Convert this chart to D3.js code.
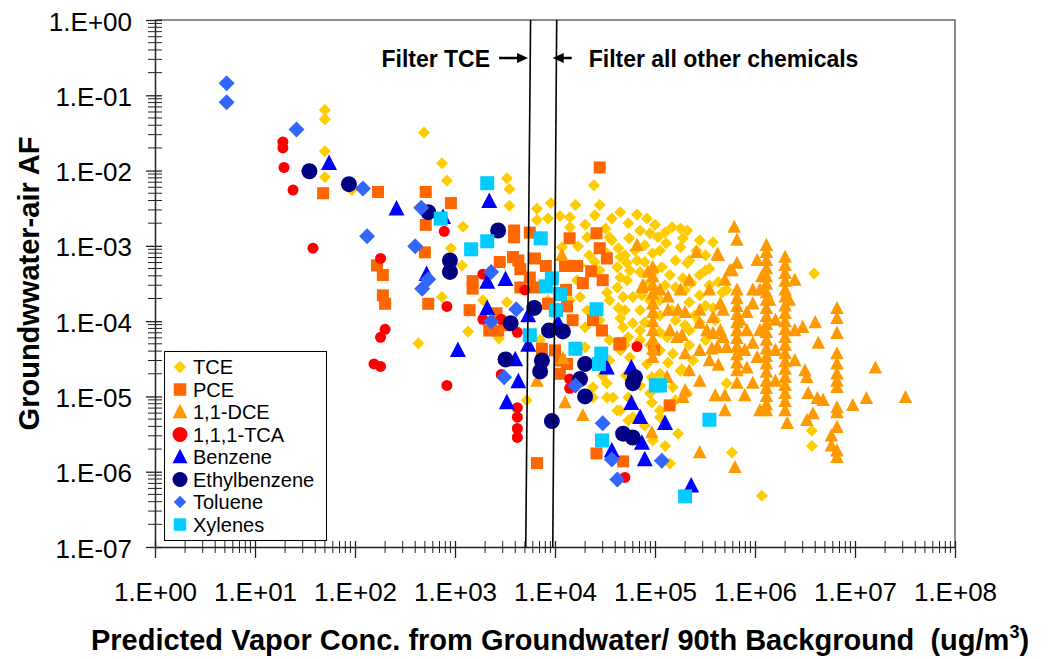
<!DOCTYPE html>
<html>
<head>
<meta charset="utf-8">
<script src="https://cdn.jsdelivr.net/npm/d3@7"></script>
<style>
    body { margin: 0; background: #fff; }
    svg { font-family: "Liberation Sans", Arial, sans-serif; }
</style>
</head>
<body>
<svg id="chart" width="1055" height="659"></svg>
<script>
// Axis ticks
const xTicks = [1e0, 1e1, 1e2, 1e3, 1e4, 1e5, 1e6, 1e7, 1e8]
const xTickLabels = ["1.E+00", "1.E+01", "1.E+02", "1.E+03", "1.E+04", "1.E+05", "1.E+06", "1.E+07", "1.E+08"]
const yTicks = [1e-7, 1e-6, 1e-5, 1e-4, 1e-3, 1e-2, 1e-1, 1e0]
const yTickLabels = ["1.E-07", "1.E-06", "1.E-05", "1.E-04", "1.E-03", "1.E-02", "1.E-01", "1.E+00"]

// [predicted vapor conc / background, groundwater-air AF]
const tce = [
    [5.0e1, 6.4e-2], [5.0e1, 4.8e-2], [5.0e1, 1.8e-2], [5.0e1, 8.2e-3], [9.3e1, 5.5e-3],
    [4.9e2, 3.2e-2], [4.3e2, 5.1e-5], [7.4e2, 1.25e-2], [8.3e2, 7.4e-3], [3.3e3, 7.9e-3],
    [3.5e3, 5.7e-3], [3.5e3, 3.4e-3], [1.2e3, 1.8e-3], [6.6e3, 3.1e-3], [9.1e3, 3.7e-3],
    [6.6e3, 2.2e-3], [8.5e3, 2.3e-3], [1.12e4, 2.5e-3], [1.41e4, 2.4e-3], [1.41e4, 1.77e-3],
    [2.45e4, 6.4e-3], [3.7e4, 2.3e-3], [5.4e4, 2.0e-3], [6.6e4, 2.6e-3], [8.3e4, 2.3e-3],
    [8.9e4, 1.47e-3], [1.07e5, 1.3e-3], [1.29e5, 1.08e-3], [2.1e5, 1.6e-3], [1.9e5, 1.26e-3],
    [3.8e5, 1.12e-3], [2.1e4, 1.3e-3], [3.5e4, 1.3e-3], [1.17e4, 9.6e-4], [3.3e4, 8.0e-4],
    [4.3e4, 9.3e-4], [4.5e4, 7.1e-4], [5.25e4, 5.9e-4], [4.2e4, 5.2e-4], [4.5e4, 3.8e-4],
    [4.2e4, 2.8e-4], [4.8e4, 2.1e-4], [4.3e4, 1.5e-4], [4.5e4, 1.09e-4], [4.8e4, 8.3e-5],
    [3.5e4, 5.6e-5], [4.5e4, 4.1e-5], [3.5e4, 3.0e-5], [3.3e4, 9.7e-6], [4.2e4, 6.5e-6],
    [2.4e4, 1.32e-5], [2.4e4, 9.7e-6], [2.0e4, 8.3e-5], [2.0e4, 4.5e-5], [1.78e4, 2.1e-4],
    [2.1e4, 1.4e-4], [9.1e2, 9.3e-4], [1.17e3, 5.5e-4], [7.4e2, 2.1e-4], [1.35e3, 7.3e-5],
    [1.9e3, 1.9e-4], [3.3e3, 1.78e-4], [2.75e3, 5.9e-5], [5.2e3, 8.9e-6], [5.5e4, 1.26e-3],
    [5.0e4, 7.5e-4], [6.6e4, 6.4e-4], [9.5e4, 8.0e-4], [1.17e5, 5.2e-4], [1.6e5, 6.4e-4],
    [2.1e5, 5.9e-4], [2.3e5, 3.2e-4], [1.9e5, 3.7e-4], [1.6e5, 2.8e-4], [4.3e5, 3.3e-4],
    [5.2e5, 2.6e-4], [3.8e5, 1.5e-4], [5.25e4, 3.5e-4], [6.0e4, 2.1e-4], [7.1e4, 1.4e-4],
    [6.0e4, 9.4e-5], [5.4e4, 6.1e-5], [5.6e4, 3.3e-5], [8.3e4, 2.7e-5], [1.35e5, 2.8e-5],
    [1.86e5, 2.3e-5], [9.3e4, 1.8e-5], [1.51e5, 1.32e-5], [2.1e5, 1.1e-5], [5.4e4, 9.7e-6],
    [9.3e4, 8.3e-6], [1.12e5, 5.3e-6], [1.7e5, 3.2e-6], [5.4e4, 4.8e-6], [1.41e5, 1.29e-6],
    [5.2e5, 1.5e-5], [5.9e5, 1.8e-6], [1.17e6, 4.8e-7], [3.9e6, 4.3e-4], [3.7e6, 3.5e-6],
    [3.7e6, 2.2e-6], [4.7e5, 2.4e-4], [9.5e4, 2.6e-6], [5.1e4, 1.9e-5], [8.9e4, 1.1e-5],
    [4.5e4, 6.5e-6], [6.0e4, 5.3e-6], [1.12e5, 6.5e-6], [1.51e5, 3.7e-5], [2.4e5, 3.0e-5],
    [1.32e5, 6.1e-5], [1.8e5, 2.2e-5], [3.3e4, 1.5e-5], [3.8e4, 9.7e-6], [2.8e4, 4.7e-4],
    [3.3e4, 2.4e-4], [7.1e4, 4.5e-4], [8.9e4, 3.3e-4], [1.12e5, 1.9e-4], [7.9e4, 9.6e-5],
    [1.12e5, 7.1e-5], [2.2e5, 1.78e-4], [2.8e5, 9.6e-5], [2.8e5, 4.1e-4], [3.2e5, 7.5e-4],
    [1.8e5, 9.6e-4], [1.48e5, 1.77e-3], [2.6e5, 8.7e-4], [3.5e5, 5.0e-4], [8.9e4, 4.8e-5],
    [2.5e4, 2.55e-3], [1.7e4, 9.9e-4], [1.66e4, 3.5e-4], [7.4e4, 2.2e-4], [1.0e5, 1.19e-4],
    [1.48e5, 1.4e-4], [2.0e5, 8.8e-5], [1.26e5, 3.0e-4], [7.1e4, 5.6e-5], [2.2e5, 4.8e-5],
    [3.2e5, 5.6e-5], [7.1e4, 1.4e-5], [1.12e5, 2.0e-5], [1.6e5, 8.9e-6], [7.9e4, 4.1e-6],
    [1.26e5, 2.2e-6], [2.7e4, 3.0e-5], [3.0e4, 1.9e-5], [8.5e3, 1.9e-4], [1.02e4, 8.8e-5],
    [7.1e3, 5.6e-5], [1.6e4, 3.5e-3], [2.0e4, 1.9e-3], [2.8e4, 3.5e-3], [3.2e4, 1.7e-3],
    [4.5e4, 2.8e-3], [7.1e4, 1.6e-3], [1.0e5, 1.9e-3], [1.26e5, 1.5e-3], [7.9e4, 1.02e-3],
    [2.2e4, 7.5e-4], [2.5e4, 6.1e-4], [6.3e4, 8.7e-4], [1.12e5, 8.7e-4], [2.2e5, 6.4e-4],
    [3.2e5, 4.7e-4], [3.7e4, 1.19e-3], [5.6e4, 4.7e-4], [7.9e4, 6.1e-4], [1.0e5, 4.7e-4],
    [1.41e5, 4.1e-4], [2.0e5, 2.6e-4], [2.8e5, 2.2e-4], [3.5e5, 3.0e-4], [8.9e4, 1.9e-4],
    [5.0e4, 1.4e-4], [3.5e4, 1.9e-4], [2.8e4, 1.03e-4], [1.6e5, 1.03e-4], [2.5e5, 1.19e-4],
    [4.0e5, 1.03e-4], [1.12e5, 1.19e-4], [7.1e4, 7.5e-5], [2.2e5, 7.5e-5], [5.0e4, 4.8e-5],
    [1.12e5, 4.1e-5], [3.2e5, 1.6e-4], [1.78e4, 5.5e-4], [1.41e4, 1.9e-4], [1.8e5, 1.7e-3],
    [2.8e5, 1.19e-3]
]
const pce = [
    [4.8e1, 5.0e-3], [1.7e2, 5.2e-3], [5.1e2, 5.2e-3], [5.1e2, 1.9e-3], [5.0e2, 8.2e-4],
    [1.66e2, 5.5e-4], [1.9e2, 4.1e-4], [1.9e2, 2.2e-4], [2.0e2, 1.7e-4], [5.4e2, 1.7e-4],
    [9.1e2, 3.7e-3], [2.8e4, 1.1e-2], [1.5e3, 3.4e-4], [1.5e3, 2.7e-4], [2.8e3, 6.1e-4],
    [3.9e3, 1.6e-3], [3.9e3, 1.3e-3], [5.6e3, 1.5e-3], [3.8e3, 7.1e-4], [4.3e3, 6.4e-4],
    [4.5e3, 4.9e-4], [6.3e3, 6.8e-4], [8.1e3, 5.4e-4], [1.26e4, 5.4e-4], [1.66e4, 5.4e-4],
    [1.4e4, 1.26e-3], [2.6e4, 1.47e-3], [2.8e4, 9.3e-4], [3.3e4, 6.8e-4], [2.3e4, 4.6e-4],
    [3.0e4, 3.5e-4], [1.9e4, 3.2e-4], [1.29e4, 2.6e-4], [1.32e4, 1.57e-4], [1.5e4, 1.03e-4],
    [2.4e4, 1.03e-4], [2.95e4, 7.5e-5], [4.4e4, 4.9e-5], [7.4e3, 4.3e-5], [1.0e4, 4.1e-5],
    [1.12e4, 3.0e-5], [1.32e4, 2.7e-5], [1.12e4, 2.0e-5], [2.6e4, 1.75e-6], [6.6e3, 1.3e-6],
    [4.8e4, 1.37e-6], [2.2e3, 7.5e-5], [2.7e3, 7.5e-5], [4.5e3, 2.8e-4], [5.6e3, 3.8e-4],
    [6.3e3, 2.8e-4], [8.5e3, 1.7e-4], [2.6e3, 1.27e-4], [3.16e3, 8.8e-5], [1.4e3, 1.4e-4],
    [1.4e5, 7.6e-6], [9.8e4, 4.2e-5], [4.5e4, 5.1e-5]
]
const dce = [
    [1.3e6, 1.02e-3], [1.3e6, 8.2e-4], [1.3e6, 6.4e-4], [1.3e6, 5.0e-4], [1.3e6, 3.9e-4],
    [1.3e6, 3.1e-4], [1.3e6, 2.4e-4], [1.3e6, 1.9e-4], [1.3e6, 1.48e-4], [1.3e6, 1.16e-4],
    [1.3e6, 9.1e-5], [1.3e6, 7.1e-5], [1.3e6, 5.6e-5], [1.3e6, 4.3e-5], [1.3e6, 3.4e-5],
    [1.3e6, 2.7e-5], [1.3e6, 2.1e-5], [1.3e6, 1.6e-5], [1.3e6, 1.28e-5], [1.3e6, 1.0e-5],
    [1.3e6, 7.8e-6], [1.3e6, 6.5e-6],
    [2.0e6, 7.1e-4], [2.0e6, 5.5e-4], [2.0e6, 4.3e-4], [2.0e6, 3.4e-4], [2.0e6, 2.6e-4],
    [2.0e6, 2.1e-4], [2.0e6, 1.6e-4], [2.0e6, 1.27e-4], [2.0e6, 9.9e-5], [2.0e6, 7.8e-5],
    [2.0e6, 6.1e-5], [2.0e6, 4.8e-5], [2.0e6, 3.7e-5], [2.0e6, 2.9e-5], [2.0e6, 2.3e-5],
    [2.0e6, 1.8e-5], [2.0e6, 1.4e-5], [2.0e6, 1.1e-5], [2.0e6, 8.6e-6], [2.0e6, 6.5e-6],
    [6.6e6, 1.48e-4], [6.6e6, 1.09e-4], [6.6e6, 6.9e-5], [6.6e6, 3.7e-5], [6.6e6, 2.7e-5],
    [6.6e6, 2.0e-5], [6.6e6, 1.6e-5], [6.6e6, 1.32e-5], [6.6e6, 7.1e-6], [6.6e6, 6.1e-6],
    [6.6e6, 3.9e-6], [5.8e6, 3.0e-6], [5.8e6, 2.2e-6], [6.6e6, 1.9e-6], [6.6e6, 1.55e-6],
    [6.6e5, 2.6e-4], [6.6e5, 2.0e-4], [6.6e5, 1.57e-4], [6.6e5, 1.23e-4], [6.6e5, 9.6e-5],
    [6.6e5, 7.5e-5], [6.6e5, 5.9e-5], [6.6e5, 4.6e-5], [6.6e5, 3.6e-5], [6.6e5, 2.8e-5],
    [6.6e5, 2.2e-5], [6.6e5, 1.5e-5],
    [9.5e4, 5.2e-4], [9.5e4, 3.9e-4], [9.5e4, 3.0e-4], [9.5e4, 2.3e-4], [9.5e4, 1.7e-4],
    [9.5e4, 1.31e-4], [9.5e4, 9.9e-5], [9.5e4, 7.5e-5], [9.5e4, 5.7e-5], [9.5e4, 4.3e-5],
    [9.5e4, 3.3e-5],
    [6.2e5, 1.77e-3], [6.6e5, 1.19e-3], [2.6e5, 8.2e-4], [4.2e5, 7.7e-4], [6.6e4, 1.02e-3],
    [8.5e4, 4.5e-4], [6.6e5, 5.9e-4], [5.6e5, 4.7e-4], [1.35e5, 2.1e-4], [1.35e5, 1.4e-4],
    [1.7e5, 1.4e-4], [2.0e5, 1.31e-4], [7.6e4, 3.0e-4], [2.8e5, 1.4e-4], [3.8e5, 1.12e-4],
    [4.5e5, 1.7e-4], [4.8e5, 1.4e-4], [9.5e5, 2.6e-4], [9.5e5, 1.7e-4], [8.3e5, 1.31e-4],
    [8.3e5, 7.5e-5], [9.5e5, 5.1e-5], [1.05e6, 3.3e-5], [8.3e5, 2.4e-5], [9.5e5, 1.5e-5],
    [2.8e5, 9.4e-5], [3.3e5, 7.5e-5], [2.8e5, 4.1e-5], [4.2e5, 4.5e-5], [4.5e5, 7.5e-5],
    [4.8e5, 6.1e-5], [5.2e5, 4.5e-5], [4.3e5, 2.6e-5], [1.66e5, 6.1e-5], [2.0e5, 3.7e-5],
    [1.86e5, 6.5e-5], [2.0e5, 1.2e-5], [1.9e5, 9.7e-6], [3.0e6, 8.3e-5], [4.0e6, 9.6e-5],
    [4.3e6, 5.1e-5], [3.16e6, 2.2e-5], [3.3e6, 1.8e-5], [3.4e6, 1.1e-5], [3.8e6, 5.9e-6],
    [3.3e6, 4.8e-6], [2.1e6, 4.4e-6], [2.8e5, 1.8e-6], [6.3e5, 1.14e-6], [1.32e5, 1.8e-5],
    [9.3e4, 3.3e-6], [4.3e5, 7.5e-4], [5.9e5, 4.7e-4], [3.7e5, 4.3e-5], [4.2e6, 9.4e-6],
    [4.8e6, 8.9e-6], [9.5e6, 7.6e-6], [1.3e7, 9.4e-6], [1.6e7, 2.4e-5], [3.2e7, 9.7e-6],
    [1.26e4, 8.3e-6], [1.9e4, 5.6e-6], [6.6e3, 1.6e-5], [1.2e4, 3.2e-5], [1.17e4, 7.5e-4],
    [3.8e5, 6.9e-5], [7.4e4, 2.8e-4], [1.12e5, 2.6e-4], [1.17e6, 3.9e-4], [1.4e6, 1.9e-4],
    [1.12e6, 7.5e-5], [1.6e6, 4.1e-5], [2.2e6, 1.9e-4], [2.5e6, 7.5e-5], [2.2e5, 2.2e-5],
    [2.8e5, 1.6e-5], [3.5e5, 3.0e-5], [5.0e5, 1.03e-5], [7.9e5, 4.1e-5], [7.9e5, 1.03e-5],
    [1.12e6, 2.6e-4], [1.6e6, 1.03e-4], [1.6e6, 1.6e-5], [1.05e6, 6.4e-4], [1.8e5, 2.6e-4],
    [1.41e5, 7.5e-5], [2.2e5, 3.5e-4], [3.5e5, 2.6e-4], [5.0e5, 3.5e-4], [4.0e5, 1.03e-5],
    [7.1e5, 1.03e-4], [5.0e5, 6.5e-6], [1.12e6, 6.5e-6], [2.5e6, 3.0e-5], [2.5e6, 3.5e-4]
]
const tca = [
    [1.9e1, 2.4e-2], [1.9e1, 2.0e-2], [1.95e1, 1.1e-2], [2.4e1, 5.5e-3], [3.8e1, 9.3e-4],
    [1.8e2, 6.8e-4], [2.0e2, 7.8e-5], [1.8e2, 6.1e-5], [1.55e2, 2.7e-5], [1.8e2, 2.5e-5],
    [7.8e2, 1.56e-3], [8.3e2, 1.57e-4], [8.3e2, 1.4e-5], [1.9e3, 4.2e-4], [1.9e3, 1.06e-4],
    [2.9e3, 1.06e-4], [4.2e3, 7.1e-5], [5.0e3, 2.6e-4], [4.2e3, 7.1e-6], [4.2e3, 5.3e-6],
    [4.2e3, 3.75e-6], [4.2e3, 2.85e-6], [2.9e3, 1.96e-5], [1.4e4, 1.7e-5], [1.4e4, 1.28e-5],
    [6.6e4, 4.6e-5], [5.0e4, 8.4e-7]
]
const benzene = [
    [5.5e1, 1.25e-2], [2.6e2, 3.1e-3], [2.2e3, 3.9e-3], [7.6e2, 2.4e-3], [5.2e2, 4.2e-4],
    [2.1e3, 3.3e-4], [3.2e3, 3.6e-4], [2.1e3, 1.48e-4], [5.4e3, 1.19e-4], [1.07e3, 4.1e-5],
    [4.0e3, 3.1e-5], [5.4e3, 4.8e-5], [4.3e3, 1.58e-5], [3.3e3, 8.3e-6], [1.07e4, 9.6e-5],
    [3.3e4, 2.4e-5], [5.8e4, 2.4e-5], [5.8e4, 8.1e-6], [7.1e4, 5.3e-6], [1.26e5, 4.4e-6],
    [3.7e4, 1.9e-6], [7.4e4, 2.4e-6], [7.9e4, 1.45e-6], [2.3e5, 6.5e-7]
]
const ethylbenzene = [
    [3.5e1, 9.8e-3], [8.7e1, 6.6e-3], [5.4e2, 2.8e-3], [2.7e3, 1.6e-3], [8.9e2, 6.4e-4],
    [8.9e2, 4.5e-4], [6.2e3, 1.5e-4], [3.6e3, 9.4e-5], [8.7e3, 7.5e-5], [1.2e4, 7.3e-5],
    [3.2e3, 3.1e-5], [7.4e3, 3.0e-5], [7.1e3, 2.15e-5], [2.0e4, 2.7e-5], [1.78e4, 1.7e-5],
    [2.0e4, 1.0e-5], [9.3e3, 4.7e-6], [4.8e4, 3.2e-6], [6.0e4, 2.85e-6], [6.3e4, 1.8e-5],
    [6.0e4, 1.5e-5]
]
const toluene = [
    [5.2e0, 1.45e-1], [5.2e0, 8.1e-2], [2.6e1, 3.5e-2], [1.2e2, 5.8e-3], [4.6e2, 3.2e-3],
    [1.32e2, 1.34e-3], [4.0e2, 9.9e-4], [5.4e2, 3.6e-4], [4.7e2, 2.7e-4], [2.3e3, 4.5e-4],
    [4.1e3, 1.44e-4], [2.3e3, 9.9e-5], [3.1e3, 1.8e-5], [1.6e4, 1.4e-5], [3.0e4, 4.4e-6],
    [3.7e4, 1.45e-6], [4.2e4, 7.9e-7], [1.17e5, 1.4e-6]
]
const xylenes = [
    [2.1e3, 6.8e-3], [7.2e2, 2.3e-3], [2.1e3, 1.15e-3], [1.45e3, 9.0e-4], [7.2e3, 1.26e-3],
    [9.3e3, 3.7e-4], [8.1e3, 2.9e-4], [1.12e4, 2.3e-4], [1.02e4, 1.4e-4], [2.6e4, 1.44e-4],
    [5.6e3, 6.5e-5], [1.6e4, 4.3e-5], [2.9e4, 3.7e-5], [2.75e4, 2.7e-5], [1.02e5, 1.4e-5],
    [1.12e5, 1.4e-5], [2.95e4, 2.6e-6], [2.0e5, 4.7e-7], [3.5e5, 4.9e-6]
]

// Filter limits, drawn from the top to the bottom of the plot
const filterTce = [[5.7e3, 1e0], [5.1e3, 1e-7]]
const filterOther = [[1.04e4, 1e0], [9.5e3, 1e-7]]

const series = [
    {name: "TCE", data: tce, shape: "diamond", color: "#FFCC00", size: 12},
    {name: "PCE", data: pce, shape: "square", color: "#FF6600", size: 12},
    {name: "1,1-DCE", data: dce, shape: "triangle", color: "#FF9900", size: 13.5},
    {name: "1,1,1-TCA", data: tca, shape: "circle", color: "#FF0000", size: 11},
    {name: "Benzene", data: benzene, shape: "triangle", color: "#0000FF", size: 16},
    {name: "Ethylbenzene", data: ethylbenzene, shape: "circle", color: "#000080", size: 16},
    {name: "Toluene", data: toluene, shape: "diamond", color: "#3366FF", size: 16},
    {name: "Xylenes", data: xylenes, shape: "square", color: "#00CCFF", size: 14},
]

function marker(shape, s) {
    const h = s / 2
    if (shape === "diamond") return `M0,${-h}L${h},0L0,${h}L${-h},0Z`
    if (shape === "square") return `M${-h},${-h}h${s}v${s}h${-s}Z`
    if (shape === "triangle") return `M0,${-0.55 * s}L${h},${0.42 * s}L${-h},${0.42 * s}Z`
    return `M${h},0A${h},${h} 0 1,1 ${-h},0A${h},${h} 0 1,1 ${h},0Z`
}

const svg = d3.select("#chart")
const x = d3.scaleLog().domain([1, 1e8]).range([155, 955])
const y = d3.scaleLog().domain([1e-7, 1]).range([547, 20])

// Gray frame on top and right
svg.append("path")
    .attr("d", `M${x(1)},${y(1)}H${x(1e8)}V${y(1e-7)}`)
    .attr("fill", "none")
    .attr("stroke", "#8a8a8a")
    .attr("stroke-width", 2)

// Minor ticks
const minors = []
for (let k = 0; k < 8; k++) for (let m = 2; m < 10; m++) minors.push(m * Math.pow(10, k))
svg.append("g").selectAll("line").data(minors).enter().append("line")
    .attr("x1", d => x(d)).attr("x2", d => x(d))
    .attr("y1", y(1e-7) - 6).attr("y2", y(1e-7) + 6)
    .attr("stroke", "#222").attr("stroke-width", 1)

const yMinors = []
for (let k = -7; k < 0; k++) for (let m = 2; m < 10; m++) yMinors.push(m * Math.pow(10, k))
svg.append("g").selectAll("line").data(yMinors).enter().append("line")
    .attr("y1", d => y(d)).attr("y2", d => y(d))
    .attr("x1", x(1) - 7).attr("x2", x(1) + 7)
    .attr("stroke", "#222").attr("stroke-width", 1)

// Axes
const xAxis = svg.append("g")
    .attr("transform", `translate(0,${y(1e-7)})`)
    .call(d3.axisBottom(x).tickValues(xTicks).tickFormat((d, i) => xTickLabels[i]).tickSizeInner(11).tickSizeOuter(0))
xAxis.selectAll(".tick line").attr("y1", -6).attr("stroke", "#222").attr("stroke-width", 1.3)
xAxis.selectAll(".tick text").attr("y", 54).attr("dy", 0)
    .attr("font-size", 26).attr("font-family", "Liberation Sans, Arial, sans-serif").attr("fill", "#000")
xAxis.select(".domain").attr("stroke", "#222").attr("stroke-width", 1.5)

const yAxis = svg.append("g")
    .attr("transform", `translate(${x(1)},0)`)
    .call(d3.axisLeft(y).tickValues(yTicks).tickFormat((d, i) => yTickLabels[i]).tickSizeInner(9).tickSizeOuter(0))
yAxis.selectAll(".tick line").attr("x1", 7).attr("stroke", "#222").attr("stroke-width", 1.3)
yAxis.selectAll(".tick text").attr("x", -23).attr("dy", 10)
    .attr("font-size", 26).attr("font-family", "Liberation Sans, Arial, sans-serif").attr("fill", "#000")
yAxis.select(".domain").attr("stroke", "#222").attr("stroke-width", 1.5)

// Points
series.forEach(s => {
    svg.append("g")
        .selectAll("path")
        .data(s.data)
        .enter()
        .append("path")
        .attr("d", marker(s.shape, s.size))
        .attr("transform", d => `translate(${x(d[0])},${y(d[1])})`)
        .attr("fill", s.color)
})

// Filter lines
;[filterTce, filterOther].forEach(f => {
    svg.append("line")
        .attr("x1", x(f[0][0])).attr("y1", y(f[0][1]))
        .attr("x2", x(f[1][0])).attr("y2", y(f[1][1]))
        .attr("stroke", "#000").attr("stroke-width", 1.6)
})

// Annotations with arrows
const tip1 = x(filterTce[0][0]) - 2.5
const tip2 = x(filterOther[0][0]) - 4
svg.append("text").attr("x", tip1 - 38).attr("y", 67)
    .attr("text-anchor", "end").attr("font-size", 23).attr("font-weight", "bold")
    .text("Filter TCE")
svg.append("text").attr("x", tip2 + 36).attr("y", 67)
    .attr("font-size", 23).attr("font-weight", "bold")
    .text("Filter all other chemicals")
svg.append("path")
    .attr("d", `M${tip1 - 29},58H${tip1 - 9}`)
    .attr("stroke", "#000").attr("stroke-width", 2.5)
svg.append("path")
    .attr("d", `M${tip1},58L${tip1 - 11},53L${tip1 - 11},63Z`)
svg.append("path")
    .attr("d", `M${tip2 + 19},58H${tip2 + 9}`)
    .attr("stroke", "#000").attr("stroke-width", 2.5)
svg.append("path")
    .attr("d", `M${tip2},58L${tip2 + 11},53L${tip2 + 11},63Z`)

// Legend
const legend = svg.append("g").attr("transform", "translate(164.5,351.5)")
legend.append("rect").attr("width", 162).attr("height", 189)
    .attr("fill", "#fff").attr("stroke", "#000").attr("stroke-width", 1)
series.forEach((s, i) => {
    const cy = 15.5 + i * 22.5
    legend.append("path")
        .attr("d", marker(s.shape, s.shape === "triangle" || s.shape === "circle" ? 15 : 12.5))
        .attr("transform", `translate(15.5,${cy})`)
        .attr("fill", s.color)
    legend.append("text").attr("x", 28.5).attr("y", cy + 7)
        .attr("font-size", 20).text(s.name)
})

// Axis titles
svg.append("text")
    .attr("transform", `translate(38.5,${(y(1) + y(1e-7)) / 2}) rotate(-90)`)
    .attr("text-anchor", "middle").attr("font-size", 29).attr("font-weight", "bold")
    .text("Groundwwater-air AF")

const xt = svg.append("text")
    .attr("x", 560).attr("y", 650)
    .attr("text-anchor", "middle").attr("font-size", 29).attr("font-weight", "bold")
xt.append("tspan").text("Predicted Vapor Conc. from Groundwater/ 90th Background\u00a0\u00a0(ug/m")
xt.append("tspan").attr("font-size", 18).attr("dy", -12).text("3")
xt.append("tspan").attr("dy", 12).text(")")
</script>
</body>
</html>
